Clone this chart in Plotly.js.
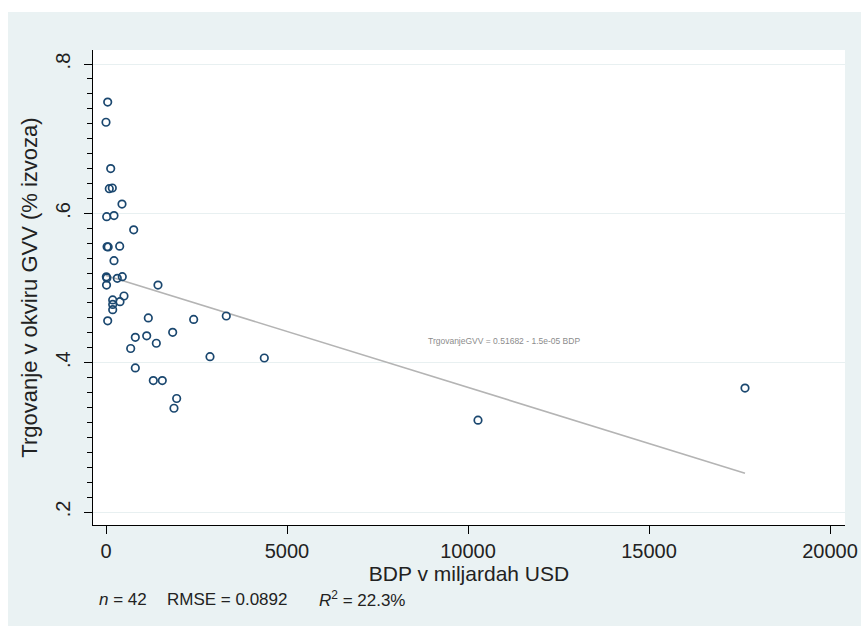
<!DOCTYPE html>
<html>
<head>
<meta charset="utf-8">
<script src="https://cdn.plot.ly/plotly-3.0.1.min.js"></script>
<style>html,body{margin:0;padding:0;background:#fff;}#chart{width:861px;height:626px;}</style>
</head>
<body>
<div id="chart"></div>
<script>
// Data
const bdp = [47, 0, 130, 91, 174, 442, 19, 221, 765, 30, 60, 378, 221, 10, 25, 15, 312, 450, 1436,
  185, 185, 185, 387, 497, 47, 1169, 2422, 3323, 1842, 810, 1124, 1390, 682, 2873, 4373, 810,
  1307, 1555, 1952, 1878, 10276, 17652];
const trgovanje = [0.749, 0.722, 0.660, 0.633, 0.634, 0.6125, 0.5955, 0.597, 0.578, 0.5553, 0.555, 0.556, 0.5366,
  0.515, 0.5135, 0.504, 0.513, 0.5152, 0.504, 0.484, 0.478, 0.471, 0.4817, 0.4893, 0.456, 0.460, 0.458, 0.4625,
  0.4407, 0.434, 0.436, 0.426, 0.419, 0.408, 0.4063, 0.393, 0.376, 0.376, 0.352, 0.339, 0.323, 0.366];
const fitIntercept = 0.51682;
const fitSlope = -1.5e-05;
const xTickVals = [0, 5000, 10000, 15000, 20000];
const xTickText = ['0', '5000', '10000', '15000', '20000'];
const yTickVals = [0.2, 0.4, 0.6, 0.8];
const yTickText = ['.2', '.4', '.6', '.8'];
const eqText = 'TrgovanjeGVV = 0.51682 - 1.5e-05 BDP';
const noteN = '<i>n</i> = 42';
const noteRmse = 'RMSE = 0.0892';
const noteR2 = '<i>R</i><sup>2</sup> = 22.3%';

// pixel helpers for the page frame
const W = 861, H = 626, L = 93, R = 16, T = 50, B = 101;
const pw = W - L - R, ph = H - T - B;
const px = v => (v - L) / pw;
const py = v => (H - B - v) / ph;

const xmin = Math.min(...bdp), xmax = Math.max(...bdp);
const fitX = [xmin, xmax];
const fitY = fitX.map(v => fitIntercept + fitSlope * v);

const font = 'Liberation Sans, Arial, sans-serif';

const traces = [
  {
    x: fitX, y: fitY, type: 'scatter', mode: 'lines',
    line: {color: '#b4b4b4', width: 1.6}, hoverinfo: 'skip', showlegend: false
  },
  {
    x: bdp, y: trgovanje, type: 'scatter', mode: 'markers',
    marker: {symbol: 'circle-open', size: 7.5, color: '#1a476f', line: {width: 1.7, color: '#1a476f'}},
    showlegend: false
  }
];

const layout = {
  width: W, height: H, autosize: false,
  margin: {l: L, r: R, t: T, b: B, pad: 0},
  paper_bgcolor: '#eaf2f3',
  plot_bgcolor: '#ffffff',
  font: {family: font, color: '#222'},
  showlegend: false,
  xaxis: {
    range: [-359, 20414],
    tickmode: 'array', tickvals: xTickVals, ticktext: xTickText,
    ticks: 'outside', ticklen: 8, tickcolor: '#000', tickwidth: 1,
    showline: true, linecolor: '#000', linewidth: 1,
    showgrid: false, zeroline: false,
    tickfont: {size: 20, family: font, color: '#222'},
    title: {text: 'BDP v miljardah USD', font: {size: 21, family: font, color: '#222'}, standoff: 2}
  },
  yaxis: {
    range: [0.1826, 0.8188],
    tickmode: 'array', tickvals: yTickVals, ticktext: yTickText,
    tickangle: -90,
    ticks: 'outside', ticklen: 8, tickcolor: '#000', tickwidth: 1,
    minor: {tickmode: 'linear', tick0: 0, dtick: 0.02, ticks: 'outside', ticklen: 5, tickcolor: '#000', showgrid: false},
    showline: true, linecolor: '#000', linewidth: 1,
    showgrid: true, gridcolor: '#e8f0f1', gridwidth: 1,
    zeroline: false,
    tickfont: {size: 20, family: font, color: '#222'},
    ticklabelstandoff: 6,
    title: {text: 'Trgovanje v okviru GVV (% izvoza)', font: {size: 22, family: font, color: '#222'}, standoff: 8}
  },
  shapes: [
    {type: 'rect', xref: 'paper', yref: 'paper', x0: px(0), x1: px(8), y0: py(H), y1: py(0),
     fillcolor: '#ffffff', line: {width: 0}, layer: 'below'},
    {type: 'rect', xref: 'paper', yref: 'paper', x0: px(0), x1: px(W), y0: py(12), y1: py(0),
     fillcolor: '#ffffff', line: {width: 0}, layer: 'below'}
  ],
  annotations: [
    {x: 10994, y: 0.429, xref: 'x', yref: 'y', text: eqText, showarrow: false,
     font: {size: 8.5, family: font, color: '#8c8c8c'}, xanchor: 'center', yanchor: 'middle'},
    {x: px(97), y: py(599), xref: 'paper', yref: 'paper', text: noteN, showarrow: false,
     font: {size: 17, family: font, color: '#222'}, xanchor: 'left', yanchor: 'middle'},
    {x: px(165), y: py(599), xref: 'paper', yref: 'paper', text: noteRmse, showarrow: false,
     font: {size: 17, family: font, color: '#222'}, xanchor: 'left', yanchor: 'middle'},
    {x: px(317), y: py(599), xref: 'paper', yref: 'paper', text: noteR2, showarrow: false,
     font: {size: 17, family: font, color: '#222'}, xanchor: 'left', yanchor: 'middle'}
  ]
};

Plotly.newPlot('chart', traces, layout, {displayModeBar: false, staticPlot: true});
</script>
</body>
</html>
